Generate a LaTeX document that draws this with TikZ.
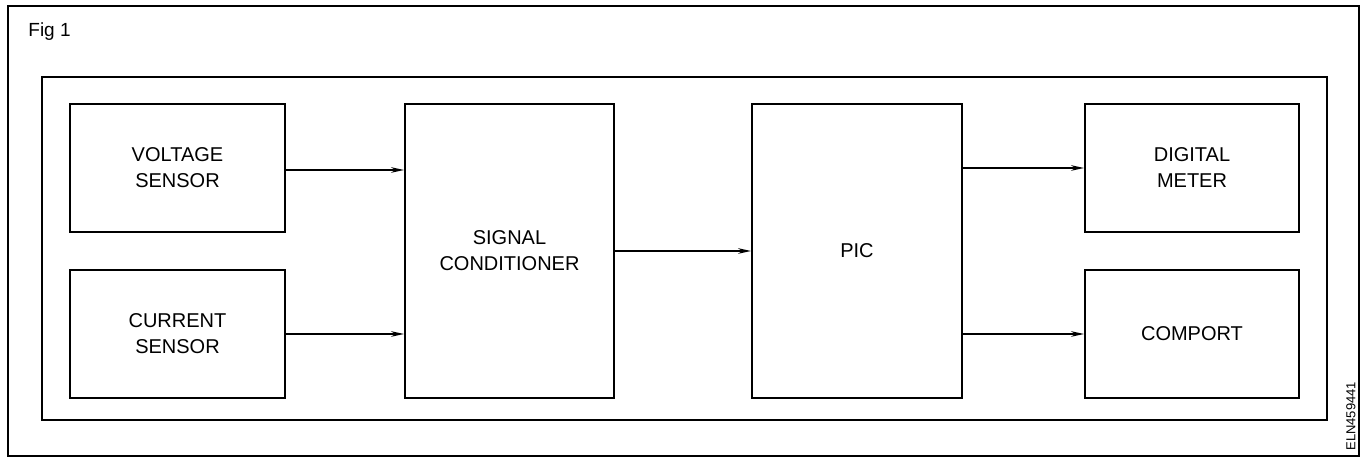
\documentclass[tikz,border=0pt]{standalone}
\usepackage{fontspec}
\setmainfont{Liberation Sans}
\usetikzlibrary{arrows.meta}
\begin{document}
\begin{tikzpicture}[x=0.5pt,y=-0.5pt,
  blk/.style={draw,line width=1pt,inner sep=0pt,align=center,font=\fontsize{10}{13}\selectfont},
  conn/.style={line width=0.75pt,-{Stealth[length=6.5pt,width=2.8pt]}},
  frame/.style={draw,line width=0.75pt}]
\useasboundingbox (0,0) rectangle (1367,458);
\draw[frame] (8,6) rectangle (1359,456);
\draw[draw,line width=1pt] (42,77) rectangle (1327,420);
\node[anchor=base west,inner sep=0pt,font=\fontsize{9.5}{11}\selectfont] (fig) at (28,37) {Fig 1};
\node[rotate=90,anchor=south west,inner sep=0pt,font=\fontsize{6.5}{8}\selectfont] (id) at (1356,451) {ELN459441};
\node[blk,minimum width=107.5pt,minimum height=64pt] (v) at (177.5,168) {VOLTAGE\\SENSOR};
\node[blk,minimum width=107.5pt,minimum height=64pt] (c) at (177.5,334) {CURRENT\\SENSOR};
\node[blk,minimum width=104.5pt,minimum height=147pt] (sc) at (509.5,251) {SIGNAL\\CONDITIONER};
\node[blk,minimum width=105pt,minimum height=147pt] (pic) at (857,251) {PIC};
\node[blk,minimum width=107pt,minimum height=64pt] (dm) at (1192,168) {DIGITAL\\METER};
\node[blk,minimum width=107pt,minimum height=64pt] (cp) at (1192,334) {COMPORT};
\draw[conn] ([yshift=-1pt]v.east) -- ([yshift=-1pt]v.east -| sc.west);
\draw[conn] (c.east) -- (c.east -| sc.west);
\draw[conn] (sc.east) -- (pic.west);
\draw[conn] (pic.east |- dm.west) -- (dm.west);
\draw[conn] (pic.east |- cp.west) -- (cp.west);
\end{tikzpicture}
\end{document}
